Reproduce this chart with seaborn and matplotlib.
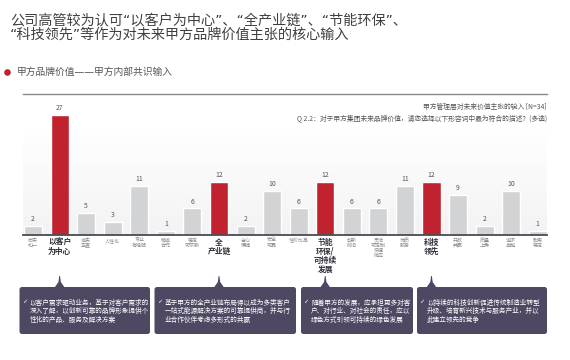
import matplotlib
matplotlib.use("Agg")
import matplotlib.pyplot as plt
import numpy as np
import pandas as pd
import seaborn as sns
from matplotlib.patches import FancyBboxPatch, Polygon

# Data
labels = ["忠实\n如一", "以客户\n为中心", "诚实\n正直", "人性化", "专业\n有经验",
          "精诚\n合作", "稳定\n可依赖", "全\n产业链", "省心\n便捷", "安全\n可靠",
          "性价比高", "节能\n环保/\n可持续\n发展", "创新\n前沿", "灵活\n可定制\n快速\n响应",
          "优质\n服务", "科技\n领先", "开放\n共赢", "质量\n上乘", "追求\n卓越", "耐用\n稳定"]
values = [2, 27, 5, 3, 11, 1, 6, 12, 2, 10, 6, 12, 6, 6, 11, 12, 9, 2, 10, 1]
highlight = [False, True, False, False, False, False, False, True, False, False,
             False, True, False, False, False, True, False, False, False, False]

box_texts = [
    "以客户需求驱动业务，基于对客户需求的\n深入了解，以创新可靠的品牌形象提供个\n性化的产品、服务及解决方案",
    "基于甲方的全产业链布局得以成为多类客户\n一站式能源解决方案的可靠提供商，并与行\n业合作伙伴考虑多形式的共赢",
    "随着甲方的发展，应承担更多对客\n户、对行业、对社会的责任，应以\n绿色方式引领可持续的绿色发展",
    "以持续的科技创新促进传统制造业转型\n升级、培育新兴技术与服务产业，并以\n此建立领先的竞争",
]

title = "公司高管较为认可“以客户为中心”、“全产业链”、“节能环保”、\n“科技领先”等作为对未来甲方品牌价值主张的核心输入"
subtitle = "甲方品牌价值——甲方内部共识输入"
note1 = "甲方管理层对未来价值主张的输入 [N=34]"
note2 = "Q 2.2：对于甲方集团未来品牌价值，请您选择以下形容词中最为符合的描述？(多选)"

RED = "#C1222F"
GRAY = "#D2D3D4"
BOX = "#4E4863"

sns.set_theme(style="white")
plt.rcParams["font.family"] = ["Noto Sans CJK SC", "DejaVu Sans"]

df = pd.DataFrame({"label": labels, "value": values,
                   "hl": ["y" if h else "n" for h in highlight]})

W, H = 570, 360
fig = plt.figure(figsize=(W / 100, H / 100), dpi=100)
ax = fig.add_axes([23 / W, 1 - 235 / H, (547 - 23) / W, (235 - 94) / H])

# faint background gradient
grad = np.linspace(0, 1, 100).reshape(-1, 1)
ax.imshow(grad, extent=(-0.38, 19.35, 0, 24), aspect="auto", origin="upper",
          cmap=matplotlib.colors.LinearSegmentedColormap.from_list("g", ["#FFFFFF", "#F3F3F3"]),
          zorder=0)

sns.barplot(data=df, x="label", y="value", hue="hl", palette={"y": RED, "n": GRAY},
            dodge=False, legend=False, width=0.68, ax=ax, zorder=2, saturation=1)

for c in ax.containers:
    ax.bar_label(c, fontsize=4.9, color="#555555", padding=2)

ax.set_xlim(-0.38, 19.35)
ax.set_ylim(0, 31.7)
ax.set_xlabel("")
ax.set_ylabel("")
ax.set_yticks([])
for s in ["left", "right"]:
    ax.spines[s].set_visible(False)
ax.spines["top"].set_color("#8A8A8A")
ax.spines["top"].set_linewidth(1.0)
ax.spines["bottom"].set_color("#4A4A55")
ax.spines["bottom"].set_linewidth(1.3)
ax.tick_params(axis="x", length=0, pad=2)
for t, h in zip(ax.get_xticklabels(), highlight):
    t.set_linespacing(1.0)
    if h:
        t.set_fontsize(5.6)
        t.set_fontweight("bold")
        t.set_color("#2F2F3A")
    else:
        t.set_fontsize(3.6)
        t.set_color("#8C8C8C")

ax.text(1.0, 0.94, note1, transform=ax.transAxes, ha="right", va="top",
        fontsize=4.9, color="#555555")
ax.text(1.0, 0.86, note2, transform=ax.transAxes, ha="right", va="top",
        fontsize=4.9, color="#555555")

# overlay in pixel coordinates for titles and callouts
ov = fig.add_axes([0, 0, 1, 1], zorder=5)
ov.set_xlim(0, W)
ov.set_ylim(H, 0)
ov.axis("off")
ov.patch.set_alpha(0)

ov.text(10, 13, title, ha="left", va="top", fontsize=10.2, color="#404040",
        linespacing=1.05, family=["DejaVu Sans", "Noto Sans CJK SC"])
ov.scatter([7], [72], s=14, color=RED)
ov.text(17, 72, subtitle, ha="left", va="center", fontsize=7, color="#555555",
        family=["DejaVu Sans", "Noto Sans CJK SC"])

fig.canvas.draw()
hl_idx = [i for i, h in enumerate(highlight) if h]
boxes = [(19.5, 150), (154.5, 296), (301, 413), (417, 547)]
for (x0, x1), txt, i in zip(boxes, box_texts, hl_idx):
    px = ax.transData.transform((i, 0))[0] * 100 / fig.dpi
    ov.add_patch(FancyBboxPatch((x0, 287), x1 - x0, 47,
                                boxstyle="round,pad=0,rounding_size=2.5",
                                fc=BOX, ec="none"))
    ov.add_patch(Polygon([(px - 0.4, 276), (px + 0.4, 276), (px + 1.2, 282),
                          (px + 5, 287.5), (px - 5, 287.5), (px - 1.2, 282)],
                         closed=True, fc=BOX, ec="none"))
    ov.text(x0 + 2.5, 299, "✓", ha="left", va="top", fontsize=4.6,
            color="white", family="DejaVu Sans")
    ov.text(x0 + 10, 299, txt, ha="left", va="top", fontsize=4.8,
            color="white", linespacing=1.05)

fig.savefig("out.png", dpi=100)
